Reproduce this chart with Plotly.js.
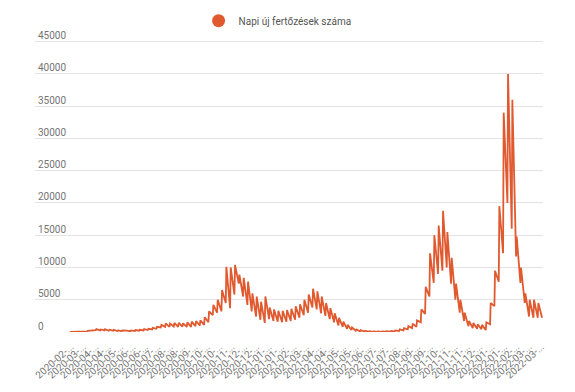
<!DOCTYPE html>
<html><head><meta charset="utf-8">
<script src="https://cdn.plot.ly/plotly-3.0.1.min.js"></script>
<style>html,body{margin:0;padding:0;background:#fff}#chart{width:575px;height:392px}</style>
</head><body><div id="chart"></div>
<script>
const seriesName = 'Napi új fertőzések száma';
const firstMonday = '2020-02-24';
// weekly low (Monday report) values
const mondayLows = [0,0,10,40,90,190,300,250,250,200,200,150,130,120,120,150,200,250,300,400,
  500,700,800,800,850,800,850,800,800,900,1000,1100,1500,2600,3000,3200,4500,3700,5800,7500,
  5500,4200,3200,2400,1900,1400,2000,1700,1600,1500,1600,1700,1900,2200,2600,3000,3800,3500,2900,2500,
  2000,1500,1000,800,500,300,200,100,70,50,30,30,30,40,50,80,150,250,400,600,
  800,1500,2800,5500,7600,9000,9500,10000,7500,5000,3000,1700,900,600,500,450,300,1200,4000,7800,
  12200,20000,16000,11700,7600,4500,2400,2200,2200,2200];
// weekly high (Tuesday report) values
const tuesdayHighs = [0,3,15,60,180,300,450,400,450,350,350,250,250,200,250,300,350,450,500,650,
  800,1100,1350,1300,1400,1400,1350,1500,1600,1700,1800,2300,3200,4200,5000,6500,10100,10000,10400,8900,
  8400,7800,6000,5500,4700,5500,3800,3500,3300,3300,3400,3600,4000,4300,5000,5800,6700,6300,5500,4500,
  3700,2900,2200,1600,1100,700,400,300,200,120,100,90,90,110,150,250,400,600,900,1300,
  1800,3500,7000,12200,15000,16500,18800,15500,11500,7500,5000,3000,1700,1400,1200,1100,1500,4500,9500,19500,
  34000,40000,36000,14800,10000,6000,5000,5000,4500];
const tickDates = ['2020-02-26','2020-03-17','2020-04-06','2020-04-26','2020-05-16','2020-06-05','2020-06-25',
  '2020-07-15','2020-08-04','2020-08-24','2020-09-13','2020-10-03','2020-10-23','2020-11-12','2020-12-02',
  '2020-12-22','2021-01-11','2021-01-31','2021-02-20','2021-03-12','2021-04-01','2021-04-21','2021-05-11',
  '2021-05-31','2021-06-20','2021-07-10','2021-07-30','2021-08-19','2021-09-08','2021-09-28','2021-10-18',
  '2021-11-07','2021-11-27','2021-12-17','2022-01-06','2022-01-26','2022-02-15','2022-03-07','2022-03-27'];
const yTicks = [0,5000,10000,15000,20000,25000,30000,35000,40000,45000];

function addDays(iso, n){ const d = new Date(iso+'T00:00:00Z'); d.setUTCDate(d.getUTCDate()+n); return d.toISOString().slice(0,10); }
const xs = [], ys = [];
for (let j = 0; j < mondayLows.length; j++) {
  xs.push(addDays(firstMonday, 7*j)); ys.push(mondayLows[j]);
  if (j < tuesdayHighs.length) { xs.push(addDays(firstMonday, 7*j+1)); ys.push(tuesdayHighs[j]); }
}
const tickText = tickDates.map(d => d.slice(0,8) + '...');
const lineColor = '#e0592f';

const traces = [
  {x: xs, y: ys, type: 'scatter', mode: 'lines', line: {color: lineColor, width: 1.8}, showlegend: false, hoverinfo: 'x+y'},
  {x: [null], y: [null], type: 'scatter', mode: 'markers', marker: {color: lineColor, size: 13}, name: seriesName}
];
const layout = {
  width: 575, height: 392,
  margin: {l: 35, r: 32, t: 0, b: 60},
  paper_bgcolor: '#fff', plot_bgcolor: '#fff',
  font: {family: 'Roboto, sans-serif', size: 10, color: '#757575'},
  showlegend: true,
  legend: {orientation: 'h', x: 0.322, xanchor: 'left', y: 0.9377, yanchor: 'middle', bgcolor: 'rgba(0,0,0,0)', font: {size: 10, color: '#555'}},
  xaxis: {type: 'date', range: ['2019-12-29 20:00', '2022-03-29 12:00'], tickmode: 'array', tickvals: tickDates, ticktext: tickText,
    tickangle: -42, showgrid: false, zeroline: false, showline: false, ticks: '', ticklabelstandoff: 6, tickfont: {size: 10, color: '#757575'}},
  yaxis: {range: [0, 51460], tickmode: 'array', tickvals: yTicks, ticktext: yTicks.map(String), showgrid: true, gridcolor: '#e3e3e3', gridwidth: 1,
    zeroline: false, showline: false, ticks: '', ticklabelposition: 'inside', ticklabelshift: -6, ticklabelstandoff: 0, tickfont: {size: 10, color: '#757575'}}
};
Plotly.newPlot('chart', traces, layout, {displayModeBar: false, staticPlot: true});
</script></body></html>
